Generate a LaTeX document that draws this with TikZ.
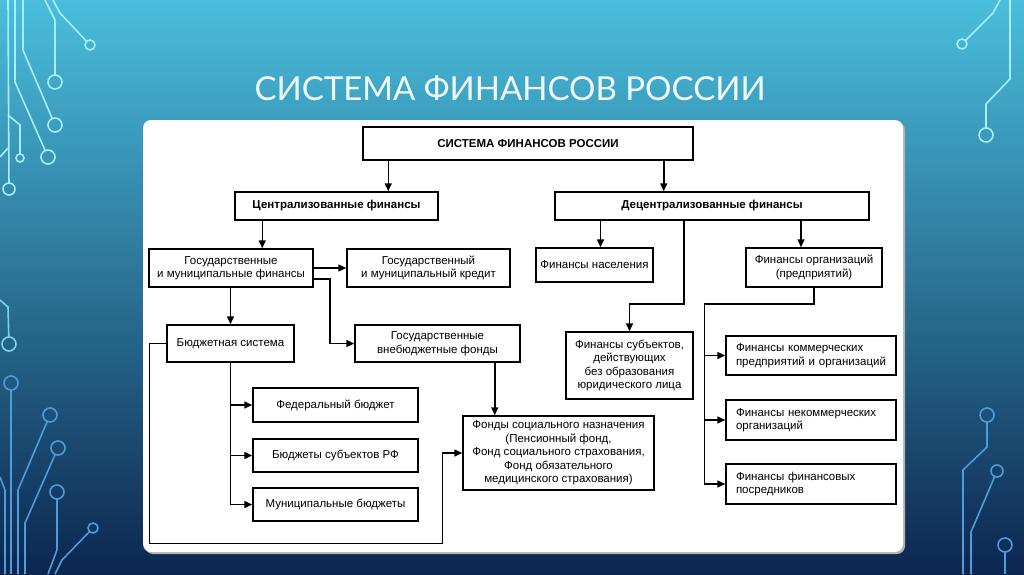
\documentclass[tikz,border=0pt]{standalone}
\usepackage{fontspec}
\setmainfont{Liberation Sans}
\newfontfamily\titlefont{Lato}
\usetikzlibrary{arrows.meta}
\definecolor{bgtop}{RGB}{74,190,220}
\definecolor{bgmid}{RGB}{38,128,176}
\definecolor{bgbot}{RGB}{12,38,80}
\definecolor{wirelight}{RGB}{165,238,252}
\definecolor{wiremid}{RGB}{120,210,240}
\definecolor{wiredark}{RGB}{78,156,218}

\begin{document}
\begin{tikzpicture}[x=1pt,y=-1pt,
        box/.style={draw,line width=1.5pt,fill=white,align=center,inner sep=2pt,
            font=\fontsize{11.5}{13.5}\selectfont},
        bbox/.style={box,font=\fontsize{11.5}{13.5}\selectfont\bfseries},
        lbox/.style={box,align=left,text width=150,inner xsep=10,minimum width=170},
        link/.style={line width=1.5pt,-{Triangle[length=8pt,width=7pt]}},
        wire/.style={line width=1.6pt,color=#1},
        pin/.style={line width=1.6pt,color=#1}]
    \useasboundingbox (0,0) rectangle (1024,574);
    \shade[top color=bgtop,middle color=bgmid,bottom color=bgbot] (0,0) rectangle (1024,574);

    % circuit wires, left
    \draw[wire=wirelight,shorten >=6] (8,0) -- (9,189);
    \draw[wire=wirelight,shorten >=7] (15,0) -- (15,82) -- (48,157);
    \draw[wire=wirelight,shorten >=7] (23,0) -- (23,50) -- (55,125);
    \draw[wire=wirelight,shorten >=7] (45,0) -- (55,20) -- (55,82);
    \draw[wire=wirelight,shorten >=5] (53,0) -- (60,13) -- (90,45);
    \draw[wire=wirelight,shorten >=4] (8,115) -- (20,125) -- (20,158);
    \draw[wire=wirelight] (0,157) -- (8,148);
    \foreach \x/\y/\r in {9/189/6,48/157/7,55/125/7,55/82/7,90/45/5,20/158/4}
        \draw[pin=wirelight] (\x,\y) circle (\r);
    \draw[wire=wiremid,shorten >=7] (0,300) -- (8,307) -- (9,344);
    \draw[pin=wiremid] (9,344) circle (7);
    \draw[wire=wiredark,shorten <=7] (11,383) -- (11,574);
    \draw[wire=wiredark,shorten <=7] (50,415) -- (18,490) -- (18,574);
    \draw[wire=wiredark,shorten <=7] (58,448) -- (25,523) -- (25,574);
    \draw[wire=wiredark,shorten <=7] (57,492) -- (57,550) -- (48,574);
    \draw[wire=wiredark,shorten <=5] (93,528) -- (62,560) -- (55,574);
    \draw[wire=wiredark] (0,477) -- (5,490) -- (5,574);
    \foreach \x/\y/\r in {11/383/7,50/415/7,58/448/7,57/492/7,93/528/5}
        \draw[pin=wiredark] (\x,\y) circle (\r);

    % circuit wires, right
    \draw[wire=wirelight,shorten >=5] (1000,0) -- (993,13) -- (962,44);
    \draw[wire=wirelight,shorten >=7] (1010,0) -- (1010,79) -- (986,104) -- (986,135);
    \draw[pin=wirelight] (962,44) circle (5);
    \draw[pin=wirelight] (986,135) circle (7);
    \draw[wire=wiredark,shorten <=7] (987,415) -- (987,447) -- (963,470) -- (963,574);
    \draw[wire=wiredark,shorten <=6] (997,471) -- (971,532) -- (971,574);
    \draw[wire=wiredark,shorten <=7] (1005,545) -- (1005,574);
    \foreach \x/\y/\r in {987/415/7,997/471/6,1005/545/7}
        \draw[pin=wiredark] (\x,\y) circle (\r);

    \node[font=\titlefont\fontsize{33}{38}\selectfont,text=white!94!cyan] (title) at (510,88) {СИСТЕМА ФИНАНСОВ РОССИИ};

    % panel
    \fill[black!30,rounded corners=8] (145,122) rectangle (905,554);
    \fill[white,rounded corners=8] (143,120) rectangle (903,552);

    \node[bbox,minimum width=330,minimum height=33] (sys) at (528,143.5) {СИСТЕМА ФИНАНСОВ РОССИИ};
    \node[bbox,minimum width=203,minimum height=28] (cen) at (336.5,206) {Централизованные финансы};
    \node[bbox,minimum width=314,minimum height=28] (dec) at (712,206) {Децентрализованные финансы};
    \node[box,minimum width=164,minimum height=38] (gmf) at (231,268) {Государственные\\и муниципальные финансы};
    \node[box,minimum width=163,minimum height=38] (gmk) at (428.5,268) {Государственный\\и муниципальный кредит};
    \node[box,minimum width=127,minimum height=37] (bs) at (230.5,343.5) {Бюджетная система};
    \node[box,minimum width=165,minimum height=37] (gvf) at (437.5,343.5) {Государственные\\внебюджетные фонды};
    \node[box,minimum width=165,minimum height=34] (fb) at (335.5,405) {Федеральный бюджет};
    \node[box,minimum width=165,minimum height=33] (bsub) at (335.5,455.5) {Бюджеты субъектов РФ};
    \node[box,minimum width=165,minimum height=33] (mb) at (335.5,504.5) {Муниципальные бюджеты};
    \node[box,minimum width=191,minimum height=74] (fsn) at (558.5,453) {Фонды социального назначения\\(Пенсионный фонд,\\Фонд социального страхования,\\Фонд обязательного\\медицинского страхования)};
    \node[box,minimum width=117,minimum height=34] (fn) at (594.5,265) {Финансы населения};
    \node[box,minimum width=136,minimum height=39] (fo) at (814,267.5) {Финансы организаций\\(предприятий)};
    \node[box,minimum width=127,minimum height=67] (fs) at (629.5,365.5) {Финансы субъектов,\\действующих\\без образования\\юридического лица};
    \node[lbox,minimum height=39] (fk) at (811,355.5) {Финансы коммерческих\\предприятий и организаций};
    \node[lbox,minimum height=40] (fnk) at (811,420) {Финансы некоммерческих\\организаций};
    \node[lbox,minimum height=40] (ffp) at (811,484) {Финансы финансовых\\посредников};

    \draw[link] ([xshift=26]sys.south west) -- ([xshift=26]sys.south west |- cen.north);
    \draw[link] ([xshift=-30]sys.south east) -- ([xshift=-30]sys.south east |- dec.north);
    \draw[link] ([xshift=28]cen.south west) -- ([xshift=28]cen.south west |- gmf.north);
    \draw[link] (gmf.east) -- (gmk.west);
    \draw[link] ([yshift=-11]gmf.east) -- ++(16,0) |- (gvf.west);
    \draw[link] (bs.north |- gmf.south) -- (bs.north);
    \draw[link] (bs.south) |- (mb.west);
    \draw[link] (bs.south |- fb.west) -- (fb.west);
    \draw[link] (bs.south |- bsub.west) -- (bsub.west);
    \draw[link] (bs.west) -- ++(-17,0) -- ++(0,200) -| ([xshift=-20]fsn.west) -- (fsn.west);
    \draw[link] ([xshift=-26]gvf.south east) -- ([xshift=-26]gvf.south east |- fsn.north);
    \draw[link] ([xshift=6]fn.north |- dec.south) -- ([xshift=6]fn.north);
    \draw[link] ([xshift=-13]fo.north |- dec.south) -- ([xshift=-13]fo.north);
    \draw[link] ([xshift=-28]dec.south) -- ++(0,83) -| (fs.north);
    \draw[link] (fo.south) -- ++(0,16) -| ([xshift=-21]ffp.west) -- (ffp.west);
    \draw[link] ([xshift=-21]fk.west) -- (fk.west);
    \draw[link] ([xshift=-21]fnk.west) -- (fnk.west);
\end{tikzpicture}
\end{document}
